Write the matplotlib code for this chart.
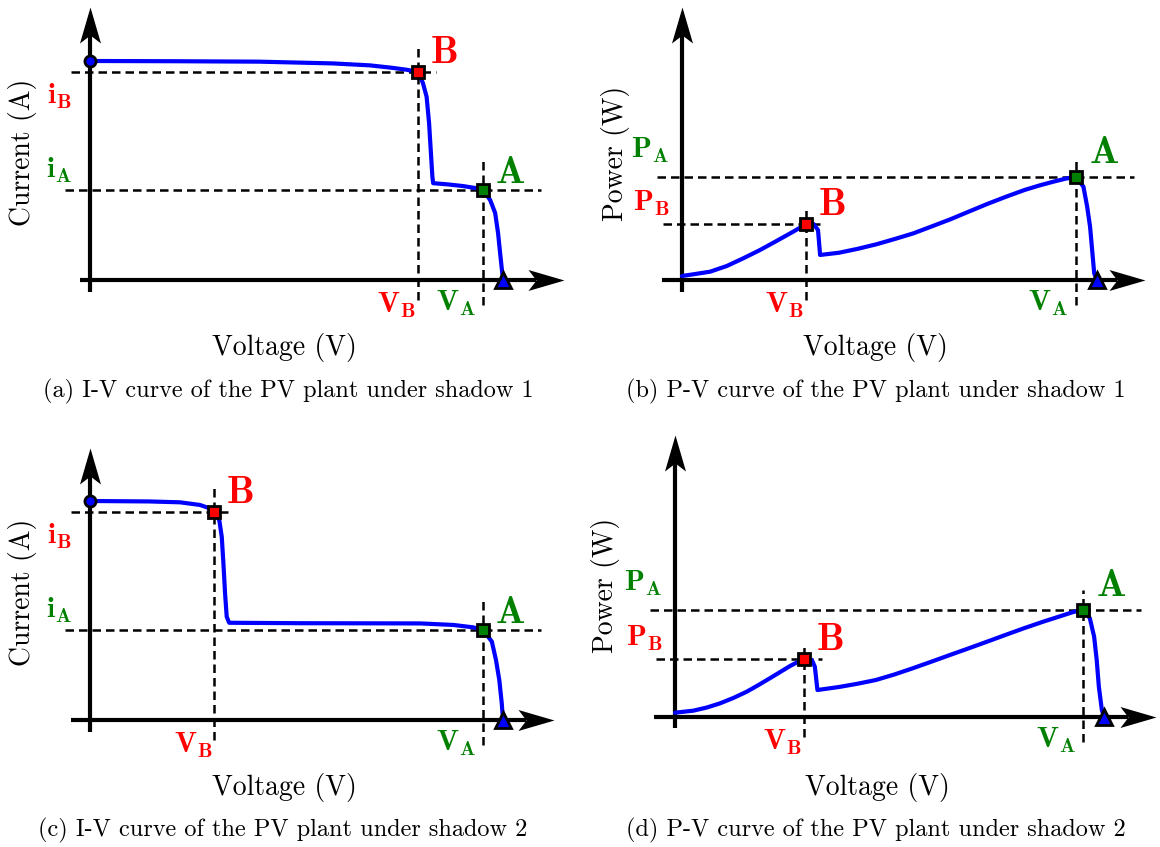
import matplotlib
matplotlib.use("Agg")
import matplotlib.pyplot as plt
from matplotlib.path import Path

W, H = 1160, 847
DPI = 100
PT = 72.0 / DPI  # points per pixel

BLUE = "#0000ff"
RED = "#ff0000"
GREEN = "#008000"

# values are normalised: voltage / Voc, current / Isc, power / P_A

# (a) I-V curve, shadow 1
IV1_V = [0.000, 0.200, 0.409, 0.588, 0.678, 0.731, 0.767, 0.794, 0.806, 0.815, 0.821,
         0.825, 0.829, 0.831, 0.864, 0.903, 0.936, 0.952, 0.969, 0.981, 0.988, 0.993, 1.000]
IV1_I = [1.000, 0.999, 0.997, 0.989, 0.980, 0.969, 0.960, 0.950, 0.900, 0.837, 0.717,
         0.594, 0.472, 0.442, 0.437, 0.429, 0.419, 0.410, 0.365, 0.306, 0.215, 0.123, 0.000]
IV1_A = (0.952, 0.410)
IV1_B = (0.794, 0.950)

# (b) P-V curve, shadow 1
PV1_V = [0.000, 0.027, 0.068, 0.108, 0.148, 0.188, 0.228, 0.268, 0.299, 0.317, 0.328,
         0.333, 0.379, 0.424, 0.469, 0.513, 0.558, 0.602, 0.647, 0.691, 0.736, 0.781,
         0.826, 0.862, 0.897, 0.925, 0.950, 0.968, 0.977, 0.984, 0.989, 0.994, 1.000]
PV1_P = [0.039, 0.055, 0.081, 0.136, 0.211, 0.291, 0.379, 0.469, 0.541, 0.544, 0.485,
         0.243, 0.265, 0.303, 0.347, 0.398, 0.453, 0.520, 0.589, 0.663, 0.738, 0.808,
         0.874, 0.918, 0.956, 0.984, 1.000, 0.906, 0.712, 0.517, 0.291, 0.065, 0.000]
PV1_A = (0.950, 1.000)
PV1_B = (0.299, 0.541)

# (c) I-V curve, shadow 2
IV2_V = [0.000, 0.142, 0.218, 0.266, 0.286, 0.301, 0.313, 0.319, 0.323, 0.327, 0.331, 0.337,
         0.508, 0.799, 0.880, 0.928, 0.952, 0.973, 0.983, 0.991, 0.997, 1.000]
IV2_I = [1.000, 0.998, 0.994, 0.982, 0.969, 0.951, 0.913, 0.837, 0.716, 0.579, 0.472, 0.444,
         0.442, 0.441, 0.434, 0.423, 0.410, 0.358, 0.274, 0.183, 0.076, 0.000]
IV2_A = (0.952, 0.410)
IV2_B = (0.301, 0.951)

# (d) P-V curve, shadow 2
PV2_V = [0.000, 0.043, 0.074, 0.105, 0.136, 0.167, 0.194, 0.221, 0.245, 0.268, 0.300,
         0.319, 0.326, 0.332, 0.382, 0.425, 0.468, 0.511, 0.554, 0.598, 0.641, 0.684,
         0.727, 0.770, 0.813, 0.857, 0.900, 0.927, 0.952, 0.967, 0.977, 0.983, 0.988,
         0.995, 1.000]
PV2_P = [0.040, 0.059, 0.088, 0.127, 0.177, 0.235, 0.296, 0.360, 0.418, 0.474, 0.540,
         0.530, 0.468, 0.251, 0.279, 0.309, 0.344, 0.395, 0.453, 0.515, 0.577, 0.638,
         0.700, 0.763, 0.825, 0.885, 0.940, 0.975, 1.000, 0.918, 0.747, 0.530, 0.282,
         0.065, 0.000]
PV2_A = (0.952, 1.000)
PV2_B = (0.300, 0.540)

CAPTIONS = [
    "(a) I-V curve of the PV plant under shadow 1",
    "(b) P-V curve of the PV plant under shadow 1",
    "(c) I-V curve of the PV plant under shadow 2",
    "(d) P-V curve of the PV plant under shadow 2",
]

PANELS = [
    dict(v=IV1_V, y=IV1_I, A=IV1_A, B=IV1_B, kind="iv", ylabel="Current (A)",
         origin=(90, 280), scale=(413, 219), box=(0, 0, 580, 423),
         ext=(-0.024, 1.148, -0.055, 1.247),
         ylab_at=(22.5, 152.5), xlab_at=(284, 347), cap_at=(288, 391)),
    dict(v=PV1_V, y=PV1_P, A=PV1_A, B=PV1_B, kind="pv", ylabel="Power (W)",
         origin=(682, 280), scale=(414.7, 103), box=(580, 0, 1160, 423),
         ext=(-0.048, 1.116, -0.117, 2.65),
         ylab_at=(615, 153), xlab_at=(875, 347), cap_at=(876, 391)),
    dict(v=IV2_V, y=IV2_I, A=IV2_A, B=IV2_B, kind="iv", ylabel="Current (A)",
         origin=(90, 720), scale=(413, 219), box=(0, 423, 580, 847),
         ext=(-0.047, 1.123, -0.053, 1.242),
         ylab_at=(22.5, 592), xlab_at=(284, 787), cap_at=(283, 830)),
    dict(v=PV2_V, y=PV2_P, A=PV2_A, B=PV2_B, kind="pv", ylabel="Power (W)",
         origin=(675, 717), scale=(429, 107.5), box=(580, 423, 1160, 847),
         ext=(-0.049, 1.121, -0.102, 2.623),
         ylab_at=(605, 585), xlab_at=(877, 787), cap_at=(876, 830)),
]

# stealth-like arrow heads, tip at the marker anchor
HEAD_LEN, HEAD_HALF, HEAD_NOTCH = 36, 10.5, 28
CODES = [Path.MOVETO, Path.LINETO, Path.LINETO, Path.LINETO, Path.CLOSEPOLY]
HEAD_RIGHT = Path([(0, 0), (-HEAD_LEN, HEAD_HALF), (-HEAD_NOTCH, 0),
                   (-HEAD_LEN, -HEAD_HALF), (0, 0)], CODES)
HEAD_UP = Path([(0, 0), (HEAD_HALF, -HEAD_LEN), (0, -HEAD_NOTCH),
                (-HEAD_HALF, -HEAD_LEN), (0, 0)], CODES)
HEAD_MS = HEAD_LEN * 2 * PT

DASH = dict(color="black", lw=1.8, ls=(0, (3.4, 2.0)), zorder=2)
SERIF = ["cmr10", "DejaVu Serif"]
BIG = 28
SMALL = 21

plt.rcParams["mathtext.fontset"] = "cm"
plt.rcParams["axes.formatter.use_mathtext"] = True


def fig_xy(x, y):
    return x / W, 1 - y / H


def label(ax, s, xy, dx, dy, color, size, ha, va):
    ax.annotate(s, xy=xy, xytext=(dx * PT, dy * PT), textcoords="offset points",
                ha=ha, va=va, color=color, fontsize=size, zorder=7)


def draw_panel(fig, p, caption):
    ox, oy = p["origin"]
    sx, sy = p["scale"]
    x0, y0, x1, y1 = p["box"]
    ax = fig.add_axes([x0 / W, 1 - y1 / H, (x1 - x0) / W, (y1 - y0) / H])
    ax.set_xlim((x0 - ox) / sx, (x1 - ox) / sx)
    ax.set_ylim((oy - y1) / sy, (oy - y0) / sy)
    ax.axis("off")

    # axes with arrows
    xl, xr, yb, yt = p["ext"]
    ax.plot([xl, xr - HEAD_NOTCH / sx], [0, 0], color="black", lw=3,
            solid_capstyle="butt", zorder=3)
    ax.plot([xr], [0], marker=HEAD_RIGHT, ms=HEAD_MS, color="black", mew=0, zorder=3)
    ax.plot([0, 0], [yb, yt - HEAD_NOTCH / sy], color="black", lw=3,
            solid_capstyle="butt", zorder=3)
    ax.plot([0], [yt], marker=HEAD_UP, ms=HEAD_MS, color="black", mew=0, zorder=3)

    iv = p["kind"] == "iv"
    A, B = p["A"], p["B"]

    # dashed guides: (point, left, right, below, above) in pixels
    for (vx, vy), left, right, below, above in [
        (A, 25, 58, 25, 33 if iv else 20),
        (B, 19, 18, 20, 28 if iv else 16),
    ]:
        ax.plot([-left / sx, vx + right / sx], [vy, vy], **DASH)
        ax.plot([vx, vx], [-below / sy, vy + above / sy], **DASH)

    # curve
    ax.plot(p["v"], p["y"], color=BLUE, lw=3.0, solid_joinstyle="round",
            solid_capstyle="round", zorder=4)
    if iv:
        ax.plot([p["v"][0]], [p["y"][0]], "o", ms=8, mfc=BLUE, mec="black", mew=2, zorder=6)
    ax.plot([p["v"][-1]], [0], "^", ms=12, mfc=BLUE, mec="black", mew=2, zorder=6)
    ax.plot([A[0]], [A[1]], "s", ms=8.4, mfc=GREEN, mec="black", mew=2, zorder=6)
    ax.plot([B[0]], [B[1]], "s", ms=8.4, mfc=RED, mec="black", mew=2, zorder=6)

    # point names
    label(ax, r"$\mathbf{B}$", B, 12, 9, RED, BIG, "left", "baseline")
    if iv:
        label(ax, r"$\mathbf{A}$", A, 12, 7.5, GREEN, BIG, "left", "baseline")
    else:
        label(ax, r"$\mathbf{A}$", A, 13, 14, GREEN, BIG, "left", "baseline")

    # voltage marks
    label(ax, r"$\mathbf{V_B}$", (B[0], 0), -2, -11, RED, SMALL, "right", "top")
    label(ax, r"$\mathbf{V_A}$", (A[0], 0), -7.5, -9, GREEN, SMALL, "right", "top")

    # current / power marks
    if iv:
        label(ax, r"$\mathbf{i_B}$", (0, B[1]), -18, -10, RED, SMALL, "right", "top")
        label(ax, r"$\mathbf{i_A}$", (0, A[1]), -18, 5, GREEN, SMALL, "right", "bottom")
    else:
        label(ax, r"$\mathbf{P_A}$", (0, A[1]), -13, 12, GREEN, SMALL, "right", "bottom")
        label(ax, r"$\mathbf{P_B}$", (0, B[1]), -12, 6, RED, SMALL, "right", "bottom")

    fig.text(*fig_xy(*p["ylab_at"]), p["ylabel"], rotation=90, ha="center", va="center",
             fontsize=20, family=SERIF)
    fig.text(*fig_xy(*p["xlab_at"]), "Voltage (V)", ha="center", va="center",
             fontsize=20, family=SERIF)
    fig.text(*fig_xy(*p["cap_at"]), caption, ha="center", va="center",
             fontsize=17.5, family=SERIF)


def main():
    fig = plt.figure(figsize=(W / DPI, H / DPI), dpi=DPI)
    fig.patch.set_facecolor("white")
    for p, cap in zip(PANELS, CAPTIONS):
        draw_panel(fig, p, cap)
    fig.savefig("out.png", dpi=DPI)
    plt.close(fig)


if __name__ == "__main__":
    main()
